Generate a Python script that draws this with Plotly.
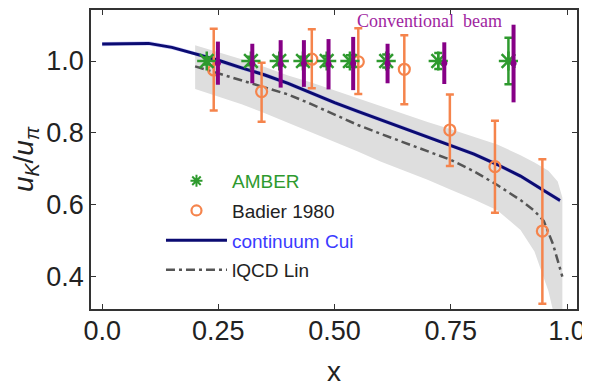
import plotly.graph_objects as go

# ---------------- data ----------------
cui_x = [0.0, 0.05, 0.10, 0.15, 0.20, 0.25, 0.30, 0.35, 0.40, 0.45, 0.50, 0.55,
         0.60, 0.65, 0.70, 0.75, 0.80, 0.85, 0.90, 0.95, 0.985]
cui_y = [1.047, 1.049, 1.049, 1.038, 1.021, 1.002, 0.981, 0.961, 0.938, 0.910, 0.884,
         0.860, 0.836, 0.812, 0.789, 0.766, 0.741, 0.712, 0.680, 0.640, 0.612]
cui_err = 0.006

lin_x = [0.20, 0.25, 0.30, 0.35, 0.40, 0.45, 0.50, 0.55, 0.60, 0.65, 0.70, 0.75,
         0.80, 0.85, 0.90, 0.93, 0.95, 0.97, 0.99]
lin_y = [0.985, 0.966, 0.947, 0.928, 0.907, 0.880, 0.851, 0.822, 0.797, 0.773, 0.750,
         0.725, 0.693, 0.655, 0.613, 0.583, 0.555, 0.490, 0.400]

band_x = [0.20, 0.25, 0.30, 0.35, 0.40, 0.45, 0.50, 0.55, 0.60, 0.65, 0.70, 0.75,
          0.80, 0.85, 0.90, 0.93, 0.96, 0.98, 0.99]
band_hi = [1.044, 1.025, 1.005, 0.983, 0.960, 0.940, 0.918, 0.896, 0.872, 0.850, 0.830,
           0.810, 0.790, 0.768, 0.738, 0.718, 0.695, 0.665, 0.620]
band_lo = [0.922, 0.900, 0.880, 0.855, 0.830, 0.803, 0.775, 0.748, 0.720, 0.695, 0.670,
           0.642, 0.615, 0.585, 0.530, 0.470, 0.360, 0.250, 0.200]

badier_x = [0.240, 0.343, 0.451, 0.551, 0.650, 0.748, 0.845, 0.947]
badier_y = [0.975, 0.915, 1.005, 0.998, 0.977, 0.808, 0.706, 0.527]
badier_up = [0.115, 0.080, 0.083, 0.093, 0.095, 0.099, 0.128, 0.200]
badier_dn = [0.113, 0.084, 0.081, 0.090, 0.097, 0.100, 0.128, 0.202]

amber_x = [0.225, 0.320, 0.381, 0.432, 0.483, 0.533, 0.611, 0.723, 0.874]
amber_y = [1.0, 1.0, 1.0, 1.0, 1.0, 1.0, 1.0, 1.0, 1.0]
amber_err = [0.010, 0.012, 0.012, 0.012, 0.014, 0.016, 0.018, 0.022, 0.065]

conv_x = [0.249, 0.323, 0.384, 0.434, 0.487, 0.540, 0.614, 0.736, 0.885]
conv_y = [0.994, 0.993, 0.992, 0.993, 0.991, 0.993, 0.993, 0.994, 0.993]
conv_err = [0.060, 0.055, 0.066, 0.065, 0.070, 0.074, 0.055, 0.058, 0.108]

x_ticks = [0.0, 0.25, 0.5, 0.75, 1.0]
x_ticktext = ["0.0", "0.25", "0.50", "0.75", "1.0"]
y_ticks = [0.4, 0.6, 0.8, 1.0]
y_ticktext = ["0.4", "0.6", "0.8", "1.0"]

GREEN = "#2e9a2e"
ORANGE = "#f5844c"
PURPLE = "#860086"
NAVY = "#0b0b72"
GRAYLINE = "#555555"
FONT = "Liberation Sans, Arial, sans-serif"

fig = go.Figure()

# lQCD band
fig.add_trace(go.Scatter(
    x=band_x + band_x[::-1], y=band_hi + band_lo[::-1],
    fill="toself", fillcolor="rgba(222,222,222,1)", line=dict(width=0),
    mode="lines", showlegend=False, hoverinfo="skip"))

# Cui thin band
fig.add_trace(go.Scatter(
    x=cui_x + cui_x[::-1],
    y=[v + cui_err for v in cui_y] + [v - cui_err for v in cui_y[::-1]],
    fill="toself", fillcolor="rgba(110,110,240,0.35)", line=dict(width=0),
    mode="lines", showlegend=False, hoverinfo="skip"))

# Cui line
fig.add_trace(go.Scatter(
    x=cui_x, y=cui_y, mode="lines", line=dict(color=NAVY, width=3),
    name='<span style="color:#3a3aff">continuum Cui</span>',
    legendrank=3, legendgroup="c"))

# Lin line
fig.add_trace(go.Scatter(
    x=lin_x, y=lin_y, mode="lines",
    line=dict(color=GRAYLINE, width=2.5, dash="9px,4px,3px,4px"),
    name="lQCD Lin", legendrank=4, legendgroup="d"))

# Badier
fig.add_trace(go.Scatter(
    x=badier_x, y=badier_y, mode="markers",
    marker=dict(symbol="circle-open", size=11, color=ORANGE, line=dict(width=2.2, color=ORANGE)),
    error_y=dict(type="data", symmetric=False, array=badier_up, arrayminus=badier_dn,
                 color=ORANGE, thickness=2.5, width=4),
    showlegend=False, hoverinfo="skip"))

# AMBER
fig.add_trace(go.Scatter(
    x=amber_x, y=amber_y, mode="markers",
    marker=dict(symbol="asterisk-open", size=16, color=GREEN, line=dict(width=2.5, color=GREEN)),
    error_y=dict(type="data", array=amber_err, color=GREEN, thickness=2.5, width=4),
    showlegend=False, hoverinfo="skip"))

# Conventional beam
fig.add_trace(go.Scatter(
    x=conv_x, y=conv_y, mode="markers",
    marker=dict(symbol="circle", size=6, color=PURPLE),
    error_y=dict(type="data", array=conv_err, color=PURPLE, thickness=4, width=0),
    showlegend=False, hoverinfo="skip"))

# legend entries for the marker series (smaller symbols, as in the original key)
fig.add_trace(go.Scatter(
    x=[None], y=[None], mode="markers",
    marker=dict(symbol="asterisk-open", size=10, color=GREEN, line=dict(width=2, color=GREEN)),
    name='<span style="color:#2e9a2e">AMBER</span>', legendrank=1, legendgroup="a"))
fig.add_trace(go.Scatter(
    x=[None], y=[None], mode="markers",
    marker=dict(symbol="circle-open", size=10, color=ORANGE, line=dict(width=2.2, color=ORANGE)),
    name="Badier 1980", legendrank=2, legendgroup="b"))

fig.add_annotation(
    x=0.544, y=1.112, xref="x", yref="y", xanchor="left", yanchor="middle",
    text="Conventional  beam", showarrow=False,
    font=dict(family="Liberation Serif, Times New Roman, serif", size=18, color="#a0259f"))

axis_common = dict(showline=True, linecolor="#333333", linewidth=1.5, mirror="allticks",
                   ticks="inside", ticklen=5, tickwidth=1.2, tickcolor="#333333",
                   showgrid=False, zeroline=False, automargin=False,
                   tickfont=dict(family=FONT, size=27, color="#222222"))

fig.update_xaxes(range=[-0.024, 1.0215], tickvals=x_ticks, ticktext=x_ticktext,
                 ticklabelstandoff=-3,
                 title=dict(text="x", font=dict(family=FONT, size=28, color="#222222"), standoff=16),
                 **axis_common)
fig.update_yaxes(range=[0.3101, 1.1419], tickvals=y_ticks, ticktext=y_ticktext,
                 title=dict(text="<i>u</i><sub><i>K</i></sub>/<i>u</i><sub><i>π</i></sub>",
                            font=dict(family=FONT, size=28, color="#222222"), standoff=6),
                 **axis_common)

# page body has an 8px margin: size the figure so the plot area lands where intended
fig.update_layout(
    template="none",
    width=582, height=384,
    margin=dict(l=83, r=13, t=2, b=83),
    paper_bgcolor="white", plot_bgcolor="white",
    showlegend=True,
    legend=dict(x=0.144, y=0.492, xanchor="left", yanchor="top",
                bgcolor="rgba(0,0,0,0)", font=dict(family=FONT, size=19, color="#222222"),
                itemwidth=61, tracegroupgap=2, traceorder="grouped"),
)

fig.write_html("out.html")
